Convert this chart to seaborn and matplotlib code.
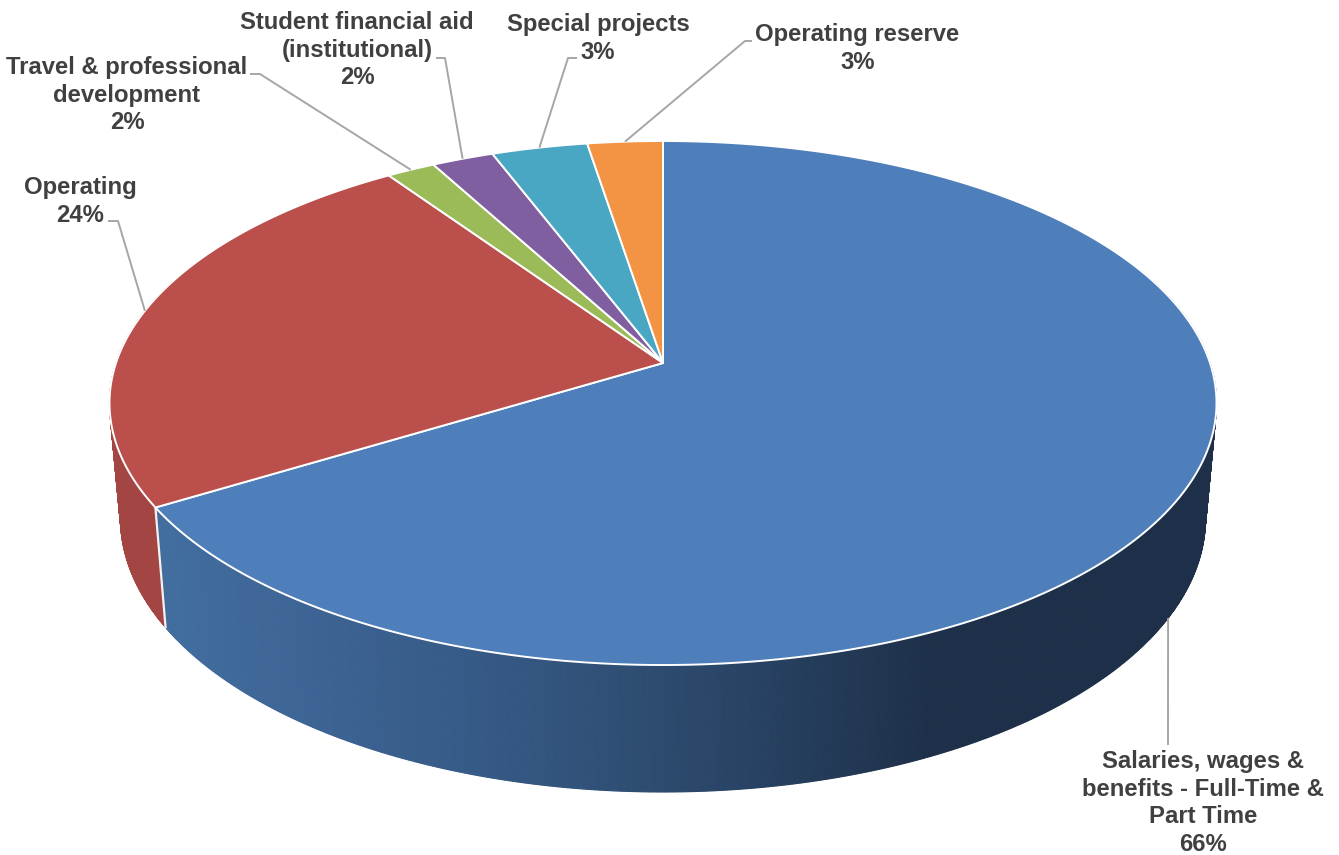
import numpy as np
import matplotlib
matplotlib.use("Agg")
import matplotlib.pyplot as plt
import seaborn as sns

# Budget shares, clockwise from twelve o'clock
categories = [
    "Salaries, wages &\nbenefits - Full-Time &\nPart Time",
    "Operating",
    "Travel & professional\ndevelopment",
    "Student financial aid\n(institutional)",
    "Special projects",
    "Operating reserve",
]
shares = [66.3, 24.15, 1.65, 2.1, 3.25, 2.55]
slice_colors = ["#4f7fba", "#bb4f4c", "#9bbb59", "#7f5f9f", "#49a7c3", "#f39444"]

# Label anchors (centre x, first baseline y) and leader elbows, in canvas units
label_anchor = [(1203, 768), (80, 194), (127, 74), (357, 29), (598, 31), (857.5, 41)]
leader_elbow = [
    [(1168, 745)],
    [(118, 221), (108, 221)],
    [(260, 74), (250, 74)],
    [(445, 58), (436, 58)],
    [(568, 58), (577, 58)],
    [(745, 41), (752, 41)],
]

sns.set_theme(style="white")
plt.rcParams["font.family"] = ["Liberation Sans", "DejaVu Sans"]

# Perspective of the tilted disc
CX, CY = 663.0, 363.0
SCALE_X, SCALE_Y, TILT = 547.0, 255.9, 0.1527
# Mapping from the top rim to the bottom rim of the wall
WALL_X, WALL_M, WALL_T = 0.98, 1.044, 97.7


def top_point(theta):
    """Project a clockwise-from-north angle (radians) on the unit circle."""
    x, y = np.sin(theta), np.cos(theta)
    w = 1 + TILT * y
    return CX + SCALE_X * x / w, CY - SCALE_Y * y / w


def wall_point(px, py):
    return CX + WALL_X * (px - CX), WALL_T + WALL_M * py


fig = plt.figure(figsize=(13.39, 8.55), dpi=100, facecolor="white")
ax = fig.add_axes([0, 0, 1, 1])
ax.set_xlim(0, 1339)
ax.set_ylim(855, 0)
ax.axis("off")

edges = np.concatenate([[0], np.cumsum(shares)]) / np.sum(shares) * 2 * np.pi

# Side wall: thin vertical strips shaded from left to right
blue_wall = sns.blend_palette(["#426d9f", "#3c6393", "#365a86", "#2f4e74", "#26405f", "#1e3049"], 256)
red_wall = "#a34643"
steps = np.linspace(np.deg2rad(70), np.deg2rad(290), 900)
for a, b in zip(steps[:-1], steps[1:]):
    x0, y0 = top_point(a)
    x1, y1 = top_point(b)
    x2, y2 = wall_point(x1, y1)
    x3, y3 = wall_point(x0, y0)
    if 0.5 * (a + b) < edges[1]:
        frac = np.clip((0.5 * (x0 + x1) - 165) / (930 - 165), 0, 1)
        col = blue_wall[int(frac * 255)]
    else:
        col = red_wall
    ax.fill([x0, x1, x2, x3], [y0, y1, y2, y3], color=col, lw=0.8, zorder=1)

# White seam where the two visible slices meet on the wall
sx, sy = top_point(edges[1])
ex, ey = wall_point(sx, sy)
ax.plot([sx, ex], [sy, ey], color="#f2f2f2", lw=1.6, zorder=2)

# Top face of every slice
for start, stop, col in zip(edges[:-1], edges[1:], slice_colors):
    arc = np.linspace(start, stop, max(int((stop - start) * 120), 6))
    px, py = top_point(arc)
    ax.fill(np.r_[CX, px], np.r_[CY, py], facecolor=col, edgecolor="white",
            lw=1.4, joinstyle="round", zorder=3)

# Leader lines start on the rim at each slice's middle angle
for i, (start, stop) in enumerate(zip(edges[:-1], edges[1:])):
    mx, my = top_point(0.5 * (start + stop))
    if i == 0:
        mx, my = wall_point(mx, my)
    xs = [mx] + [p[0] for p in leader_elbow[i]]
    ys = [my] + [p[1] for p in leader_elbow[i]]
    ax.plot(xs, ys, color="#a6a6a6", lw=1.4, zorder=4, solid_capstyle="butt")

# Category name and rounded share above each other
for name, share, (lx, ly) in zip(categories, shares, label_anchor):
    for k, line in enumerate(f"{name}\n{share:.0f}%".split("\n")):
        ax.text(lx, ly + 27.6 * k, line, ha="center", va="baseline", fontsize=17.2,
                fontweight="bold", color="#404040", zorder=5)

fig.savefig("out.png", dpi=100, facecolor="white")
